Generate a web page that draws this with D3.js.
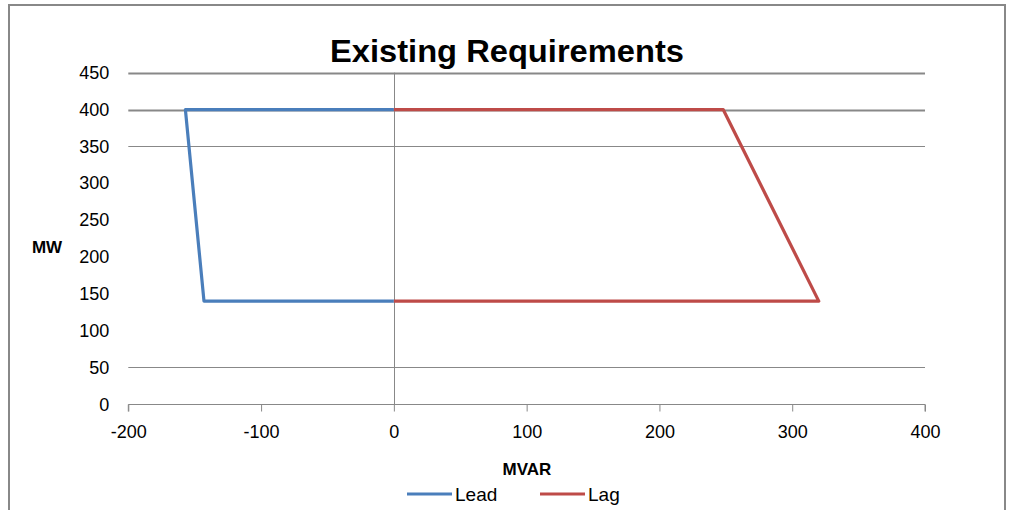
<!DOCTYPE html>
<html><head><meta charset="utf-8">
<script src="https://cdn.jsdelivr.net/npm/d3@7"></script>
<style>
html,body{margin:0;padding:0;background:#fff;}
svg{display:block;}
text{font-family:"Liberation Sans Narrow","Liberation Sans",Arial,sans-serif;fill:#000;}
</style></head>
<body>
<svg id="chart" width="1011" height="510"></svg>
<script>
const title = "Existing Requirements";
const xTicks = [-200, -100, 0, 100, 200, 300, 400];
const yTicks = [0, 50, 100, 150, 200, 250, 300, 350, 400, 450];
const gridValues = [50, 350, 400, 450];
const seriesNames = ["Lead", "Lag"];
const leadX = [0, -157, -143, 0];
const leadY = [400, 400, 140, 140];
const lagX = [0, 248, 320, 0];
const lagY = [400, 400, 140, 140];
const colors = ["#4A7EBB", "#BE4B48"];

const svg = d3.select("#chart");
const W = 1011, H = 510;
const m = {left: 128.3, right: 925, top: 72.7, bottom: 404.3};

// outer frame
svg.append("path").attr("d", `M9,${H+2}V5H1005V${H+2}`)
  .attr("fill", "none").attr("stroke", "#888").attr("stroke-width", 2);

const x = d3.scaleLinear().domain([-200, 400]).range([m.left, m.right]);
const y = d3.scaleLinear().domain([0, 450]).range([m.bottom, m.top]);

// gridlines
svg.append("g").selectAll("line").data(gridValues).join("line")
  .attr("x1", m.left).attr("x2", m.right)
  .attr("y1", d => Math.round(y(d)) + 0.5).attr("y2", d => Math.round(y(d)) + 0.5)
  .attr("stroke", "#888")
  .attr("stroke-width", d => d >= 400 ? 2 : 1);

// x axis
const xAxis = d3.axisBottom(x).tickValues(xTicks).tickSize(7).tickPadding(14).tickFormat(d => String(d));
const gx = svg.append("g").attr("transform", `translate(0,${Math.round(m.bottom)+0.5})`).call(xAxis);
gx.select(".domain").attr("stroke", "#888").attr("d", `M${x(-200)},7V0H${x(400)}V7`);
gx.selectAll(".tick line").attr("stroke", "#888");
gx.selectAll(".tick text").attr("font-size", 18).attr("fill", "#000").attr("dy", "0.71em");

// y axis line at x=0, labels at left
svg.append("line").attr("x1", Math.round(x(0))+0.5).attr("x2", Math.round(x(0))+0.5)
  .attr("y1", y(450)).attr("y2", m.bottom).attr("stroke", "#888").attr("stroke-width", 1);
const yAxis = d3.axisLeft(y).tickValues(yTicks).tickSize(0).tickPadding(19).tickFormat(d => String(d));
const gy = svg.append("g").attr("transform", `translate(${m.left},0)`).call(yAxis);
gy.select(".domain").remove();
gy.selectAll(".tick text").attr("font-size", 18).attr("fill", "#000");

// series
const line = d3.line().x(d => x(d[0])).y(d => y(d[1]));
const series = [
  leadX.map((v, i) => [v, leadY[i]]),
  lagX.map((v, i) => [v, lagY[i]])
];
svg.append("g").selectAll("path").data(series).join("path")
  .attr("d", line).attr("fill", "none")
  .attr("stroke", (d, i) => colors[i]).attr("stroke-width", 3.2)
  .attr("stroke-linejoin", "round");

// title
svg.append("text").attr("x", 507).attr("y", 62).attr("text-anchor", "middle")
  .attr("font-size", 32).attr("font-weight", "bold")
  .attr("textLength", 354).attr("lengthAdjust", "spacingAndGlyphs")
  .text(title);

// axis titles
svg.append("text").attr("x", 47).attr("y", 253).attr("text-anchor", "middle")
  .attr("font-size", 17).attr("font-weight", "bold").text("MW");
svg.append("text").attr("x", 527).attr("y", 475).attr("text-anchor", "middle")
  .attr("font-size", 17).attr("font-weight", "bold").text("MVAR");

// legend
const legX = [407, 540];
const lg = svg.append("g").selectAll("g").data(seriesNames).join("g")
  .attr("transform", (d, i) => `translate(${legX[i]},494)`);
lg.append("line").attr("x1", 0).attr("x2", 45).attr("y1", 0).attr("y2", 0)
  .attr("stroke", (d, i) => colors[i]).attr("stroke-width", 3);
lg.append("text").attr("x", 48).attr("y", 7).attr("font-size", 19).text(d => d);
</script>
</body></html>
